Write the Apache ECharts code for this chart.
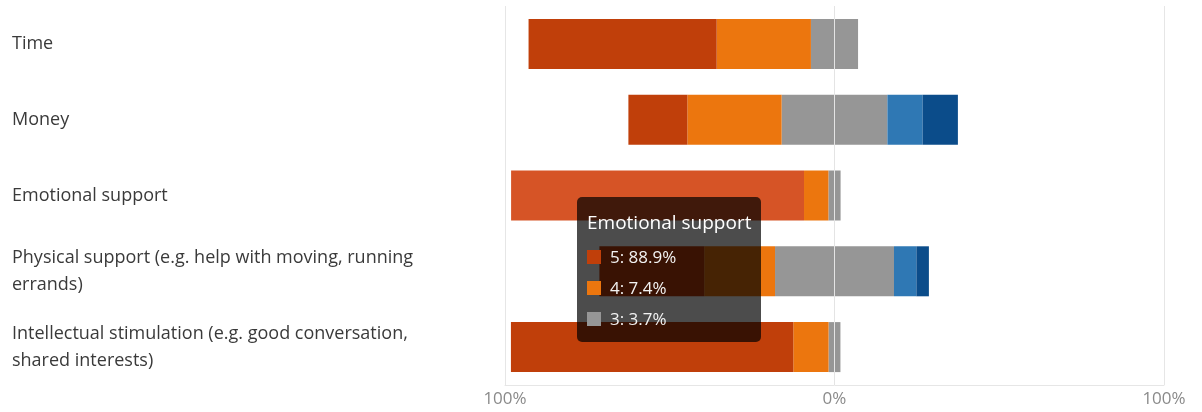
<!DOCTYPE html>
<html>
<head>
<meta charset="utf-8">
<script src="https://cdn.jsdelivr.net/npm/echarts@6/dist/echarts.min.js"></script>
<style>
html,body{margin:0;padding:0;background:#fff;}
#chart{width:1202px;height:412px;}
</style>
</head>
<body>
<div id="chart"></div>
<script>
// ---- data (percent of responses per rating level) ----
var categories = [
  'Time',
  'Money',
  'Emotional support',
  'Physical support (e.g. help with moving, running errands)',
  'Intellectual stimulation (e.g. good conversation, shared interests)'
];
var level5 = [57.1, 17.9, 88.9, 31.8, 85.7];
var level4 = [28.6, 28.6, 7.4, 21.5, 10.7];
var level3 = [14.3, 32.1, 3.7, 36.1, 3.6];
var level2 = [0, 10.7, 0, 6.8, 0];
var level1 = [0, 10.7, 0, 3.8, 0];
var tickLabels = ['100%', '0%', '100%'];

var colors = {5:'#C03F0A', 4:'#EC760E', 3:'#969696', 2:'#2F78B4', 1:'#0B4C8A'};
var levels = {5: level5, 4: level4, 3: level3, 2: level2, 1: level1};

var FONT = 'Open Sans, Noto Sans, sans-serif';

function neg(arr){ return arr.map(function(v){ return -v; }); }
function half(arr, sign){ return arr.map(function(v){ return sign * v / 2; }); }

function bar(name, data, color, extra){
  var s = {
    name: name, type: 'bar', stack: 'total', data: data, barWidth: 50,
    itemStyle: {color: color},
    emphasis: {disabled: true}
  };
  if (extra) for (var k in extra) s[k] = extra[k];
  return s;
}

var chart = echarts.init(document.getElementById('chart'), null, {renderer: 'canvas'});

var option = {
  animation: false,
  backgroundColor: '#fff',
  grid: {left: 505, right: 38, top: 6, bottom: 27, containLabel: false},
  tooltip: {
    trigger: 'item',
    alwaysShowContent: true,
    transitionDuration: 0,
    backgroundColor: 'rgba(0,0,0,0.7)',
    borderWidth: 0,
    borderRadius: 5,
    padding: [10, 10, 8, 10],
    extraCssText: 'box-shadow:none;',
    position: function(){ return [577, 197]; },
    formatter: function(p){
      var i = p.dataIndex;
      var html = '<div style="font-family:' + FONT + ';font-size:19px;line-height:30px;color:#fff;">' + categories[i] + '</div>';
      html += '<div style="margin-top:4px;">';
      [5,4,3,2,1].forEach(function(l){
        var v = levels[l][i];
        if (v > 0) {
          html += '<div style="font-family:' + FONT + ';font-size:17px;line-height:31px;color:#f2f2f2;">' +
            '<span style="display:inline-block;width:14px;height:14px;background:' + colors[l] +
            ';margin-right:9px;vertical-align:-1px;"></span>' + l + ': ' + v.toFixed(1) + '%</div>';
        }
      });
      html += '</div>';
      return html;
    }
  },
  xAxis: {
    type: 'value', min: -100, max: 100, interval: 100,
    axisLine: {show: true, lineStyle: {color: '#e6e6e6'}},
    axisTick: {show: false},
    splitLine: {show: true, lineStyle: {color: '#e6e6e6'}},
    axisLabel: {
      margin: 6, fontSize: 17, color: '#8a8a8a', fontFamily: FONT,
      formatter: function(v){ return tickLabels[Math.round((v + 100) / 100)]; }
    }
  },
  yAxis: {
    type: 'category', inverse: true, data: categories,
    axisLine: {show: false}, axisTick: {show: false},
    axisLabel: {
      align: 'left', margin: 493, fontSize: 18, lineHeight: 27,
      color: '#3a3a3a', fontFamily: FONT, width: 430, overflow: 'break'
    }
  },
  series: [
    bar('3', half(level3, -1), colors[3]),
    bar('3', half(level3, 1), colors[3]),
    bar('4', neg(level4), colors[4]),
    bar('2', level2, colors[2]),
    bar('5', neg(level5), colors[5], {emphasis: {itemStyle: {color: '#D65426'}}}),
    bar('1', level1, colors[1], {
      markLine: {
        silent: true, symbol: 'none', label: {show: false},
        lineStyle: {color: '#e4e4e4', width: 1, type: 'solid'},
        data: [{xAxis: 0}]
      }
    })
  ]
};
chart.setOption(option);
chart.dispatchAction({type: 'highlight', seriesIndex: 4, dataIndex: 2});
chart.dispatchAction({type: 'showTip', seriesIndex: 4, dataIndex: 2});
</script>
</body>
</html>
